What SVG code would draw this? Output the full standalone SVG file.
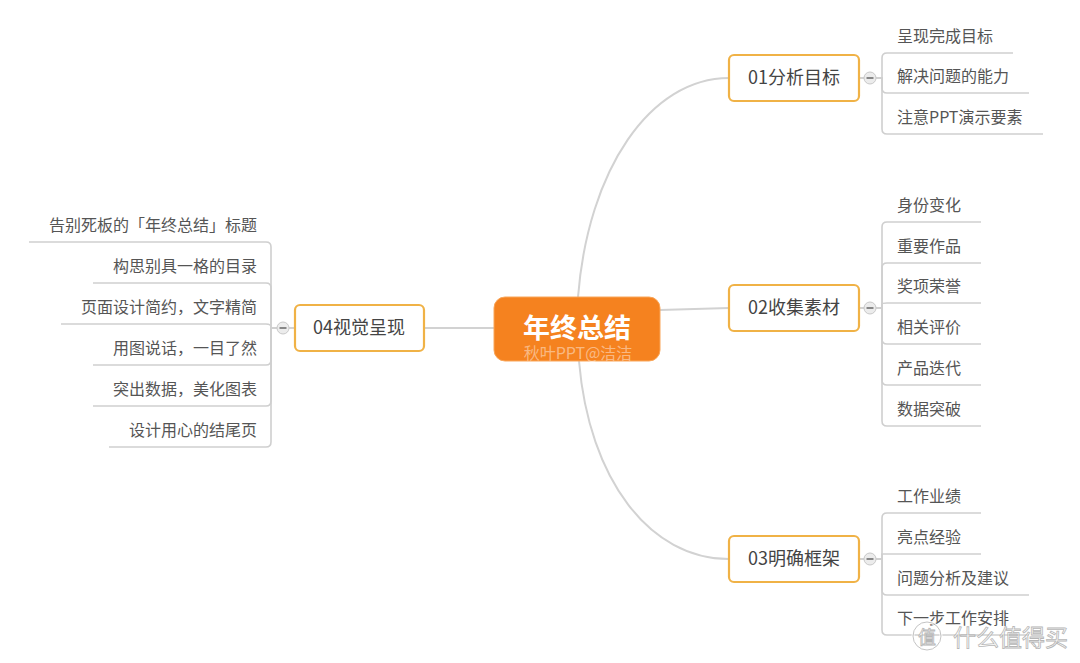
<svg xmlns="http://www.w3.org/2000/svg" width="1080" height="663" viewBox="0 0 1080 663">
<style>
.conn{fill:none;stroke:#d2d2d2;stroke-width:2}
.leafline{fill:none;stroke:#cfcfcf;stroke-width:1.6}
.topic{fill:#fff;stroke:#f0b246;stroke-width:2.2}
.ttext{font-family:"Noto Sans CJK SC","Noto Sans",sans-serif;font-size:18px;fill:#444;text-anchor:middle}
.leaf{font-family:"Noto Sans CJK SC","Noto Sans",sans-serif;font-size:16px;fill:#555}
.leafL{font-family:"Noto Sans CJK SC","Noto Sans",sans-serif;font-size:16px;fill:#555;text-anchor:end}
.coll{fill:#ececec;stroke:#c8c8c8;stroke-width:1}
.minus{stroke:#666;stroke-width:1.5}
</style>
<rect width="1080" height="663" fill="#fff"/>
<g id="connectors">
<path class="conn" d="M578,297 C588,170 650,78 729,78"/>
<path class="conn" d="M660,310 L729,308"/>
<path class="conn" d="M579,361 C589,480 650,559 729,559"/>
<path class="conn" d="M424,328 L494,328"/>
<path class="conn" d="M859,78 H864"/>
<path class="leafline" d="M876,78 H882 V58 Q882,53 887,53 H1013"/>
<path class="leafline" d="M876,78 H882 V88 Q882,93 887,93 H1029"/>
<path class="leafline" d="M876,78 H882 V129 Q882,134 887,134 H1043"/>
<path class="conn" d="M859,308 H864"/>
<path class="leafline" d="M876,308 H882 V227 Q882,222 887,222 H981"/>
<path class="leafline" d="M876,308 H882 V268 Q882,263 887,263 H981"/>
<path class="leafline" d="M876,308 H882 V304 Q882,303 887,303 H981"/>
<path class="leafline" d="M876,308 H882 V339 Q882,344 887,344 H981"/>
<path class="leafline" d="M876,308 H882 V380 Q882,385 887,385 H981"/>
<path class="leafline" d="M876,308 H882 V421 Q882,426 887,426 H981"/>
<path class="conn" d="M859,559 H864"/>
<path class="leafline" d="M876,559 H882 V518 Q882,513 887,513 H981"/>
<path class="leafline" d="M876,559 H882 V554 Q882,554 887,554 H981"/>
<path class="leafline" d="M876,559 H882 V590 Q882,595 887,595 H1029"/>
<path class="leafline" d="M876,559 H882 V630 Q882,635 887,635 H1029"/>
<path class="conn" d="M295,328 H289"/>
<path class="leafline" d="M277,328 H271 V247 Q271,242 266,242 H29"/>
<path class="leafline" d="M277,328 H271 V288 Q271,283 266,283 H93"/>
<path class="leafline" d="M277,328 H271 V327 Q271,324 266,324 H61"/>
<path class="leafline" d="M277,328 H271 V360 Q271,365 266,365 H93"/>
<path class="leafline" d="M277,328 H271 V401 Q271,406 266,406 H93"/>
<path class="leafline" d="M277,328 H271 V442 Q271,447 266,447 H109"/>
</g>
<g id="center">
<rect x="494" y="297" width="166" height="64" rx="11" fill="#f5821f" stroke="#f9a65a" stroke-width="1"/>
<text x="577" y="338" font-family="'Noto Sans CJK SC','Noto Sans',sans-serif" font-size="27" font-weight="bold" fill="#fff" text-anchor="middle">年终总结</text>
<text x="578" y="359" font-family="'Noto Sans CJK SC','Noto Sans',sans-serif" font-size="16" fill="#fff" fill-opacity="0.45" text-anchor="middle">秋叶PPT@洁洁</text>
</g>
<g id="t01">
<rect class="topic" x="729" y="55" width="130" height="46" rx="5"/>
<text class="ttext" x="794" y="84">01分析目标</text>
<circle class="coll" cx="870" cy="78" r="6"/><line class="minus" x1="866.5" y1="78" x2="873.5" y2="78"/>
</g>
<g id="t01-leaves">
<text class="leaf" x="897" y="42">呈现完成目标</text>
<text class="leaf" x="897" y="82">解决问题的能力</text>
<text class="leaf" x="897" y="123">注意PPT演示要素</text>
</g>
<g id="t02">
<rect class="topic" x="729" y="285" width="130" height="46" rx="5"/>
<text class="ttext" x="794" y="314">02收集素材</text>
<circle class="coll" cx="870" cy="308" r="6"/><line class="minus" x1="866.5" y1="308" x2="873.5" y2="308"/>
</g>
<g id="t02-leaves">
<text class="leaf" x="897" y="211">身份变化</text>
<text class="leaf" x="897" y="252">重要作品</text>
<text class="leaf" x="897" y="292">奖项荣誉</text>
<text class="leaf" x="897" y="333">相关评价</text>
<text class="leaf" x="897" y="374">产品迭代</text>
<text class="leaf" x="897" y="415">数据突破</text>
</g>
<g id="t03">
<rect class="topic" x="729" y="536" width="130" height="46" rx="5"/>
<text class="ttext" x="794" y="565">03明确框架</text>
<circle class="coll" cx="870" cy="559" r="6"/><line class="minus" x1="866.5" y1="559" x2="873.5" y2="559"/>
</g>
<g id="t03-leaves">
<text class="leaf" x="897" y="502">工作业绩</text>
<text class="leaf" x="897" y="543">亮点经验</text>
<text class="leaf" x="897" y="584">问题分析及建议</text>
<text class="leaf" x="897" y="624">下一步工作安排</text>
</g>
<g id="t04">
<rect class="topic" x="295" y="305" width="129" height="46" rx="5"/>
<text class="ttext" x="359" y="334">04视觉呈现</text>
<circle class="coll" cx="283" cy="328" r="6"/><line class="minus" x1="279.5" y1="328" x2="286.5" y2="328"/>
</g>
<g id="t04-leaves">
<text class="leafL" x="257" y="231">告别死板的「年终总结」标题</text>
<text class="leafL" x="257" y="272">构思别具一格的目录</text>
<text class="leafL" x="257" y="313">页面设计简约，文字精简</text>
<text class="leafL" x="257" y="354">用图说话，一目了然</text>
<text class="leafL" x="257" y="395">突出数据，美化图表</text>
<text class="leafL" x="257" y="436">设计用心的结尾页</text>
</g>
<g id="watermark" opacity="0.85">
<circle cx="927" cy="636" r="14" fill="none" stroke="#fff" stroke-width="3"/>
<circle cx="927" cy="636" r="14" fill="none" stroke="#bbb" stroke-width="1"/>
<text x="927" y="644" font-family="'Noto Sans CJK SC',sans-serif" font-size="18" fill="#fff" stroke="#aaa" stroke-width="0.8" text-anchor="middle">值</text>
<text x="953" y="646" font-family="'Noto Sans CJK SC',sans-serif" font-size="23" fill="#fff" stroke="#aaa" stroke-width="0.8">什么值得买</text>
</g>
</svg>
